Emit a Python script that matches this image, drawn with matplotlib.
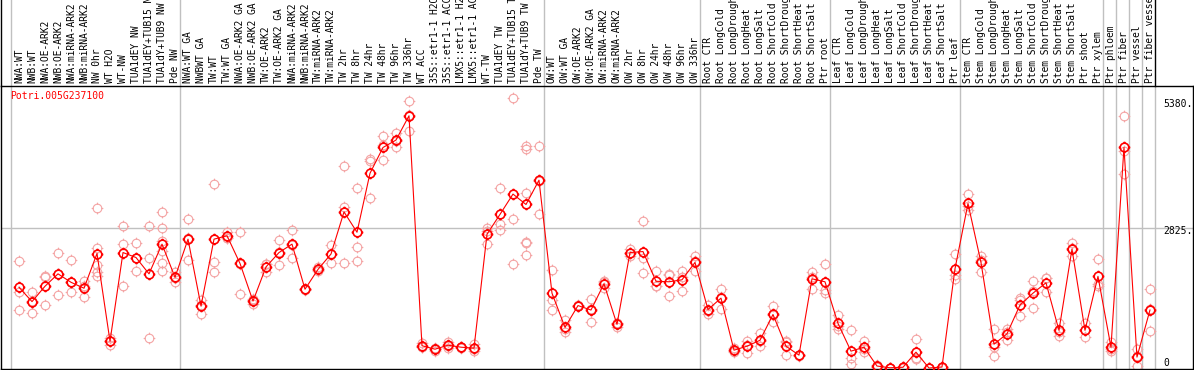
#!/usr/bin/env python3
# -*- coding: utf-8 -*-
"""
Expression profile of one poplar gene across samples (eFP-style line plot)
"""

import numpy as np
import matplotlib
matplotlib.use('Agg')
import matplotlib.pyplot as plt
from matplotlib.path import Path
from matplotlib.transforms import blended_transform_factory

gene = 'Potri.005G237100'

labels = ['NWA:WT', 'NWB:WT', 'NWA:OE-ARK2', 'NWB:OE-ARK2', 'NWA:miRNA-ARK2',
          'NWB:miRNA-ARK2', 'NW 0hr', 'WT H2O', 'WT-NW', 'TUA1dEY NW',
          'TUA1dEY+TUB15 NW', 'TUA1dY+TUB9 NW', 'Pde NW',
          'NWA:WT GA', 'NWBWT GA', 'TW:WT', 'TW:WT GA', 'NWA:OE-ARK2 GA',
          'NWB:OE-ARK2 GA', 'TW:OE-ARK2', 'TW:OE-ARK2 GA', 'NWA:miRNA-ARK2',
          'NWB:miRNA-ARK2', 'TW:miRNA-ARK2', 'TW:miRNA-ARK2', 'TW 2hr', 'TW 8hr',
          'TW 24hr', 'TW 48hr', 'TW 96hr', 'TW 336hr', 'WT ACC',
          '35S::etr1-1 H2O', '35S::etr1-1 ACC', 'LMX5::etr1-1 H2O',
          'LMX5::etr1-1 ACC', 'WT-TW', 'TUA1dEY TW', 'TUA1dEY+TUB15 TW',
          'TUA1dY+TUB9 TW', 'Pde TW',
          'OW:WT', 'OW:WT GA', 'OW:OE-ARK2', 'OW:OE-ARK2 GA', 'OW:miRNA-ARK2',
          'OW:miRNA-ARK2', 'OW 2hr', 'OW 8hr', 'OW 24hr', 'OW 48hr', 'OW 96hr',
          'OW 336hr',
          'Root CTR', 'Root LongCold', 'Root LongDrought', 'Root LongHeat',
          'Root LongSalt', 'Root ShortCold', 'Root ShortDrought',
          'Root ShortHeat', 'Root ShortSalt', 'Ptr root',
          'Leaf CTR', 'Leaf LongCold', 'Leaf LongDrought', 'Leaf LongHeat',
          'Leaf LongSalt', 'Leaf ShortCold', 'Leaf ShortDrought',
          'Leaf ShortHeat', 'Leaf ShortSalt', 'Ptr leaf',
          'Stem CTR', 'Stem LongCold', 'Stem LongDrought', 'Stem LongHeat',
          'Stem LongSalt', 'Stem ShortCold', 'Stem ShortDrought',
          'Stem ShortHeat', 'Stem ShortSalt', 'Ptr shoot', 'Ptr xylem',
          'Ptr phloem', 'Ptr fiber', 'Ptr vessel', 'Ptr fiber vessel']

means = [1630, 1340, 1650, 1900, 1730, 1610, 2310, 540, 2330, 2230,
         1900, 2500, 1830,
         2600, 1250, 2600, 2670, 2110, 1350, 2040, 2330, 2500, 1590,
         1990, 2300, 3150, 2740, 3930, 4450, 4600, 5090, 450, 380,
         460, 420, 400, 2700, 3100, 3510, 3300, 3790,
         1510, 820, 1260, 1170, 1700, 880, 2330, 2350, 1750, 1740, 1780, 2130,
         1180, 1410, 360, 440, 560, 1080, 440, 260, 1800, 1740,
         900, 340, 420, 40, 5, 15, 320, 0, 20, 2000,
         3320, 2130, 480, 690, 1270, 1510, 1720, 760, 2400, 760, 1850, 420,
         4450, 220, 1170]

reps = [[2150, 1530, 1180], [1530, 1120, 1360], [1850, 1270, 1830],
        [2330, 1470, 1900], [2170, 1530, 1730], [1760, 1430, 1650],
        [3220, 2430, 2080, 1940, 1850], [600, 460, 550], [2860, 2500, 1650],
        [2520, 1950, 2220], [2860, 2210, 600],
        [3140, 2820, 2570, 2370, 2110, 1950], [1940, 1740, 1820],
        [3000, 2170, 2630], [1370, 1100, 1270], [3710, 2130, 1930],
        [2750, 2630, 2630], [2740, 1490, 2100], [1290, 1370, 1390],
        [2100, 1930, 2090], [2580, 2070, 2340], [2780, 2230, 2490],
        [1590, 1580, 1600], [2040, 1960, 1970], [2480, 2110, 2300],
        [4070, 3250, 2120], [3630, 2440, 2150], [4220, 4180, 3430],
        [4680, 4510, 4190], [4740, 4470, 4590], [5380, 4780, 5100],
        [500, 430, 420], [400, 350, 390], [530, 410, 440], [420, 410, 430],
        [480, 340, 380], [2830, 2770, 2500], [3630, 2900, 2780],
        [5440, 3000, 2100], [4480, 4410, 3530, 2540, 2520, 2280],
        [4490, 3110, 3770],
        [1970, 1380, 1170], [960, 720, 780], [1260, 1250, 1270],
        [1390, 920, 1200], [1760, 1610, 1730], [830, 910, 900],
        [2410, 2260, 2320], [2960, 2210, 1910], [1950, 1650, 1650],
        [1870, 1450, 1900], [1950, 1550, 1840], [2270, 1960, 2150],
        [1280, 1100, 1160], [1590, 1200, 1440], [410, 320, 350],
        [540, 310, 470], [700, 440, 540], [1250, 930, 1070], [540, 260, 520],
        [260, 250, 270], [1930, 1840, 1600], [2090, 1570, 1510],
        [1070, 780, 850], [770, 200, 80], [545, 330, 390], [60, 30, 30],
        [0, 10, 5], [20, 10, 15], [590, 180, 200], [0, 5, 10], [30, 20, 10],
        [2300, 1880, 1800], [3510, 3260, 3190], [2270, 1940, 2180],
        [780, 240, 420], [720, 570, 780], [1410, 1040, 1370],
        [1750, 1220, 1560], [1810, 1540, 1810], [900, 650, 730],
        [2520, 2260, 2420], [900, 620, 760], [2190, 1660, 1700],
        [530, 380, 350], [5090, 4370, 3910], [380, 50, 240],
        [1590, 1200, 750]]

# last category index of each block (-1 = line before the first one)
group_ends = [-1, 12, 40, 52, 62, 72, 83, 84, 85, 86, 87]
ytick_vals = [5380, 2825, 0]

RED = '#ff0000'
PINK = '#f4a4a4'

# circle with four little ticks round it
ticks = Path([(0, 1), (0, 1.35), (0, -1), (0, -1.35),
              (1, 0), (1.35, 0), (-1, 0), (-1.35, 0)],
             [Path.MOVETO, Path.LINETO] * 4)
marker = Path.make_compound_path(Path.unit_circle(), ticks)

plt.rcParams['font.family'] = 'DejaVu Sans Mono'

fig = plt.figure(figsize=(11.94, 3.70), dpi=100)
ax = fig.add_axes([1 / 1194, 1 / 370, 1192 / 1194, 283 / 370])

x = np.arange(len(labels))
ax.set_xlim(-1.385, 90.31)
ax.set_ylim(-20, 5691)

# separators and mid line
ax.axhline(ytick_vals[1], color='#c0c0c0', lw=1, zorder=0)
for k in group_ends:
    ax.axvline(k + 0.4, color='#c0c0c0', lw=1, zorder=0)

# replicate points
rx = np.concatenate([[i] * len(r) for i, r in enumerate(reps)])
ry = np.concatenate(reps)
ax.plot(rx, ry, ls='none', marker=marker, ms=8.4, mfc='none', mec=PINK,
        mew=0.8, zorder=2)

# mean line
ax.plot(x, means, color=RED, lw=0.8, marker=marker, ms=8.4, mfc='none',
        mec=RED, mew=1.2, zorder=3)

ax.text(-0.7, 5590, gene, color=RED, fontsize=7, ha='left', va='top')

xt = 88.0
ax.text(xt, ytick_vals[0] + 40, '%d.' % ytick_vals[0], fontsize=7, ha='left', va='top')
ax.text(xt, ytick_vals[1] + 40, '%d.' % ytick_vals[1], fontsize=7, ha='left', va='top')
ax.text(xt, ytick_vals[2] + 10, '%d' % ytick_vals[2], fontsize=7, ha='left', va='bottom')

ax.set_xticks([])
ax.set_yticks([])
for s in ax.spines.values():
    s.set_color('black')
    s.set_linewidth(1)

# sample labels above the plot
trans = blended_transform_factory(ax.transData, fig.transFigure)
for i, lab in enumerate(labels):
    ax.text(i, 1 - 83 / 370, lab, rotation=90, fontsize=6.9, ha='center',
            va='bottom', transform=trans, clip_on=False)

top = 1 - 86 / 370
for k in group_ends[:-1]:
    ax.plot([k + 0.4] * 2, [top, 1], color='#c0c0c0', lw=1, transform=trans,
            clip_on=False)
ax.plot([group_ends[-1] + 0.4] * 2, [top, 1], color='black', lw=1,
        transform=trans, clip_on=False)
ax.plot([-1.37] * 2, [top, 1], color='black', lw=1, transform=trans,
        clip_on=False)

fig.savefig('out.png', dpi=100)
